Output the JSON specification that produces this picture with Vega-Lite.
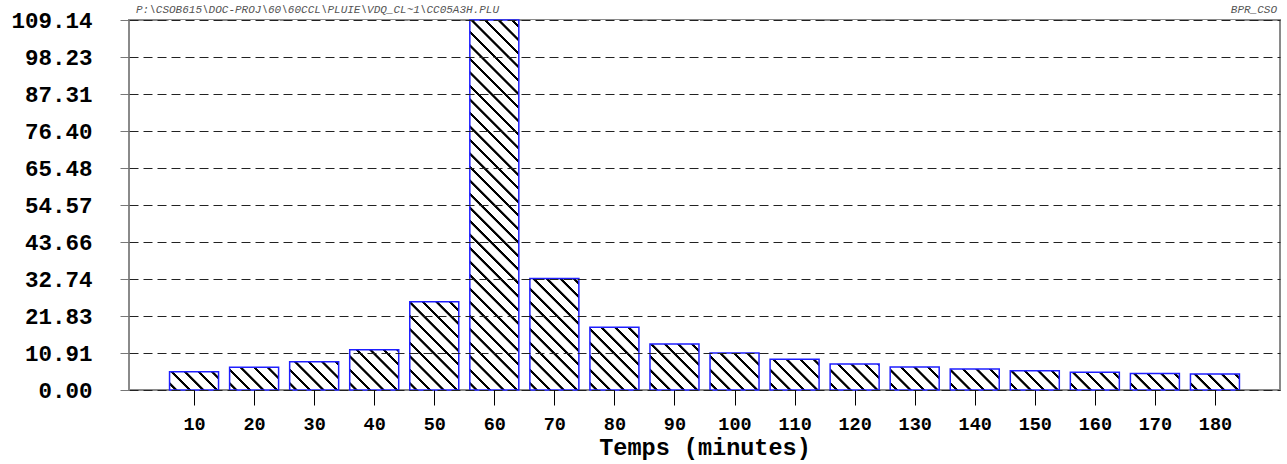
{
  "$schema": "https://vega.github.io/schema/vega-lite/v6.json",
  "width": 1151,
  "height": 370,
  "autosize": {"type": "none"},
  "padding": {"left": 129, "top": 20, "right": 7, "bottom": 74},
  "background": "white",
  "data": {
    "values": [
      {"t": 10, "v": 5.4},
      {"t": 20, "v": 6.7},
      {"t": 30, "v": 8.3},
      {"t": 40, "v": 11.9},
      {"t": 50, "v": 26.0},
      {"t": 60, "v": 109.14},
      {"t": 70, "v": 32.9},
      {"t": 80, "v": 18.5},
      {"t": 90, "v": 13.6},
      {"t": 100, "v": 10.9},
      {"t": 110, "v": 9.1},
      {"t": 120, "v": 7.7},
      {"t": 130, "v": 6.8},
      {"t": 140, "v": 6.2},
      {"t": 150, "v": 5.7},
      {"t": 160, "v": 5.2},
      {"t": 170, "v": 4.9},
      {"t": 180, "v": 4.7}
    ]
  },
  "layer": [
    {
      "mark": {
        "type": "bar",
        "width": 49,
        "stroke": null,
        "fill": {
          "gradient": "linear",
          "x1": 0, "y1": 1, "x2": 0.14739, "y2": -0.11292,
          "stops": [
            {"offset": 0, "color": "#ffffff"},
            {"offset": 0.0116, "color": "#ffffff"}, {"offset": 0.0131, "color": "#000000"}, {"offset": 0.0191, "color": "#000000"}, {"offset": 0.0206, "color": "#ffffff"},
            {"offset": 0.0439, "color": "#ffffff"}, {"offset": 0.0454, "color": "#000000"}, {"offset": 0.0514, "color": "#000000"}, {"offset": 0.0529, "color": "#ffffff"},
            {"offset": 0.0761, "color": "#ffffff"}, {"offset": 0.0776, "color": "#000000"}, {"offset": 0.0836, "color": "#000000"}, {"offset": 0.0851, "color": "#ffffff"},
            {"offset": 0.1084, "color": "#ffffff"}, {"offset": 0.1099, "color": "#000000"}, {"offset": 0.1159, "color": "#000000"}, {"offset": 0.1174, "color": "#ffffff"},
            {"offset": 0.1407, "color": "#ffffff"}, {"offset": 0.1422, "color": "#000000"}, {"offset": 0.1482, "color": "#000000"}, {"offset": 0.1497, "color": "#ffffff"},
            {"offset": 0.1729, "color": "#ffffff"}, {"offset": 0.1744, "color": "#000000"}, {"offset": 0.1804, "color": "#000000"}, {"offset": 0.1819, "color": "#ffffff"},
            {"offset": 0.2052, "color": "#ffffff"}, {"offset": 0.2067, "color": "#000000"}, {"offset": 0.2127, "color": "#000000"}, {"offset": 0.2142, "color": "#ffffff"},
            {"offset": 0.2374, "color": "#ffffff"}, {"offset": 0.2389, "color": "#000000"}, {"offset": 0.2449, "color": "#000000"}, {"offset": 0.2464, "color": "#ffffff"},
            {"offset": 0.2697, "color": "#ffffff"}, {"offset": 0.2712, "color": "#000000"}, {"offset": 0.2772, "color": "#000000"}, {"offset": 0.2787, "color": "#ffffff"},
            {"offset": 0.3020, "color": "#ffffff"}, {"offset": 0.3035, "color": "#000000"}, {"offset": 0.3095, "color": "#000000"}, {"offset": 0.3110, "color": "#ffffff"},
            {"offset": 0.3342, "color": "#ffffff"}, {"offset": 0.3357, "color": "#000000"}, {"offset": 0.3417, "color": "#000000"}, {"offset": 0.3432, "color": "#ffffff"},
            {"offset": 0.3665, "color": "#ffffff"}, {"offset": 0.3680, "color": "#000000"}, {"offset": 0.3740, "color": "#000000"}, {"offset": 0.3755, "color": "#ffffff"},
            {"offset": 0.3987, "color": "#ffffff"}, {"offset": 0.4002, "color": "#000000"}, {"offset": 0.4062, "color": "#000000"}, {"offset": 0.4077, "color": "#ffffff"},
            {"offset": 0.4310, "color": "#ffffff"}, {"offset": 0.4325, "color": "#000000"}, {"offset": 0.4385, "color": "#000000"}, {"offset": 0.4400, "color": "#ffffff"},
            {"offset": 0.4632, "color": "#ffffff"}, {"offset": 0.4647, "color": "#000000"}, {"offset": 0.4707, "color": "#000000"}, {"offset": 0.4722, "color": "#ffffff"},
            {"offset": 0.4955, "color": "#ffffff"}, {"offset": 0.4970, "color": "#000000"}, {"offset": 0.5030, "color": "#000000"}, {"offset": 0.5045, "color": "#ffffff"},
            {"offset": 0.5278, "color": "#ffffff"}, {"offset": 0.5293, "color": "#000000"}, {"offset": 0.5353, "color": "#000000"}, {"offset": 0.5368, "color": "#ffffff"},
            {"offset": 0.5600, "color": "#ffffff"}, {"offset": 0.5615, "color": "#000000"}, {"offset": 0.5675, "color": "#000000"}, {"offset": 0.5690, "color": "#ffffff"},
            {"offset": 0.5923, "color": "#ffffff"}, {"offset": 0.5938, "color": "#000000"}, {"offset": 0.5998, "color": "#000000"}, {"offset": 0.6013, "color": "#ffffff"},
            {"offset": 0.6245, "color": "#ffffff"}, {"offset": 0.6260, "color": "#000000"}, {"offset": 0.6320, "color": "#000000"}, {"offset": 0.6335, "color": "#ffffff"},
            {"offset": 0.6568, "color": "#ffffff"}, {"offset": 0.6583, "color": "#000000"}, {"offset": 0.6643, "color": "#000000"}, {"offset": 0.6658, "color": "#ffffff"},
            {"offset": 0.6890, "color": "#ffffff"}, {"offset": 0.6905, "color": "#000000"}, {"offset": 0.6965, "color": "#000000"}, {"offset": 0.6980, "color": "#ffffff"},
            {"offset": 0.7213, "color": "#ffffff"}, {"offset": 0.7228, "color": "#000000"}, {"offset": 0.7288, "color": "#000000"}, {"offset": 0.7303, "color": "#ffffff"},
            {"offset": 0.7536, "color": "#ffffff"}, {"offset": 0.7551, "color": "#000000"}, {"offset": 0.7611, "color": "#000000"}, {"offset": 0.7626, "color": "#ffffff"},
            {"offset": 0.7858, "color": "#ffffff"}, {"offset": 0.7873, "color": "#000000"}, {"offset": 0.7933, "color": "#000000"}, {"offset": 0.7948, "color": "#ffffff"},
            {"offset": 0.8181, "color": "#ffffff"}, {"offset": 0.8196, "color": "#000000"}, {"offset": 0.8256, "color": "#000000"}, {"offset": 0.8271, "color": "#ffffff"},
            {"offset": 0.8503, "color": "#ffffff"}, {"offset": 0.8518, "color": "#000000"}, {"offset": 0.8578, "color": "#000000"}, {"offset": 0.8593, "color": "#ffffff"},
            {"offset": 0.8826, "color": "#ffffff"}, {"offset": 0.8841, "color": "#000000"}, {"offset": 0.8901, "color": "#000000"}, {"offset": 0.8916, "color": "#ffffff"},
            {"offset": 0.9149, "color": "#ffffff"}, {"offset": 0.9164, "color": "#000000"}, {"offset": 0.9224, "color": "#000000"}, {"offset": 0.9239, "color": "#ffffff"},
            {"offset": 0.9471, "color": "#ffffff"}, {"offset": 0.9486, "color": "#000000"}, {"offset": 0.9546, "color": "#000000"}, {"offset": 0.9561, "color": "#ffffff"},
            {"offset": 0.9794, "color": "#ffffff"}, {"offset": 0.9809, "color": "#000000"}, {"offset": 0.9869, "color": "#000000"}, {"offset": 0.9884, "color": "#ffffff"},
            {"offset": 1, "color": "#ffffff"}
          ]
        }
      },
      "encoding": {
        "x": {
          "field": "t",
          "type": "quantitative",
          "scale": {"domain": [0, 190], "nice": false, "zero": true},
          "axis": {
            "values": [10, 20, 30, 40, 50, 60, 70, 80, 90, 100, 110, 120, 130, 140, 150, 160, 170, 180],
            "tickCount": 30,
            "format": "d",
            "grid": false,
            "domain": false,
            "ticks": true,
            "tickSize": 15,
            "tickColor": "#000000",
            "tickWidth": 1,
            "labelFont": "Liberation Mono",
            "labelFontWeight": "bold",
            "labelFontSize": 18.5,
            "labelColor": "#000000",
            "labelPadding": 9,
            "title": "Temps (minutes)",
            "titleFont": "Liberation Mono",
            "titleFontWeight": "bold",
            "titleFontSize": 23.5,
            "titleColor": "#000000",
            "titlePadding": 3,
            "zindex": 1
          }
        },
        "y": {
          "datum": 109.14,
          "type": "quantitative",
          "scale": {"domain": [0, 109.14], "nice": false, "zero": true},
          "axis": {
            "values": [0, 10.914, 21.828, 32.742, 43.656, 54.57, 65.484, 76.398, 87.312, 98.226, 109.14],
            "tickCount": 20,
            "format": ".2f",
            "grid": true,
            "gridColor": "#222222",
            "gridDash": [9, 5],
            "gridWidth": 1,
            "domain": false,
            "tickSize": 9,
            "tickColor": "#777777",
            "tickWidth": 1,
            "labelFont": "Liberation Mono",
            "labelFontWeight": "bold",
            "labelFontSize": 22.5,
            "labelColor": "#000000",
            "labelPadding": 28,
            "title": null,
            "zindex": 1
          }
        },
        "y2": {"datum": 0}
      }
    },
    {
      "mark": {"type": "bar", "width": 51, "fill": "#ffffff", "stroke": null},
      "encoding": {
        "x": {"field": "t", "type": "quantitative"},
        "y": {"field": "v", "type": "quantitative"},
        "y2": {"datum": 109.14}
      }
    },
    {
      "mark": {"type": "bar", "width": 49, "filled": false, "stroke": "#1f1fff", "strokeWidth": 1.5},
      "encoding": {
        "x": {"field": "t", "type": "quantitative"},
        "y": {"field": "v", "type": "quantitative"},
        "y2": {"datum": 0}
      }
    },
    {
      "data": {"values": [{"tag": "P:\\CSOB615\\DOC-PROJ\\60\\60CCL\\PLUIE\\VDQ_CL~1\\CC05A3H.PLU", "pos": 0}]},
      "mark": {
        "type": "text",
        "align": "left",
        "baseline": "alphabetic",
        "dx": 2,
        "dy": -7,
        "font": "Liberation Mono",
        "fontSize": 11,
        "fontStyle": "italic",
        "color": "#555555"
      },
      "encoding": {
        "text": {"field": "tag"},
        "x": {"field": "pos", "type": "quantitative"},
        "y": {"datum": 109.14, "type": "quantitative"}
      }
    },
    {
      "data": {"values": [{"tag": "BPR_CSO", "pos": 190}]},
      "mark": {
        "type": "text",
        "align": "right",
        "baseline": "alphabetic",
        "dx": 2,
        "dy": -7,
        "font": "Liberation Mono",
        "fontSize": 11,
        "fontStyle": "italic",
        "color": "#555555"
      },
      "encoding": {
        "text": {"field": "tag"},
        "x": {"field": "pos", "type": "quantitative"},
        "y": {"datum": 109.14, "type": "quantitative"}
      }
    }
  ],
  "config": {
    "view": {"stroke": "#8a8a8a", "strokeWidth": 2},
    "font": "Liberation Mono",
    "axis": {"labelOverlap": false, "labelBound": false, "labelFlush": false}
  }
}
